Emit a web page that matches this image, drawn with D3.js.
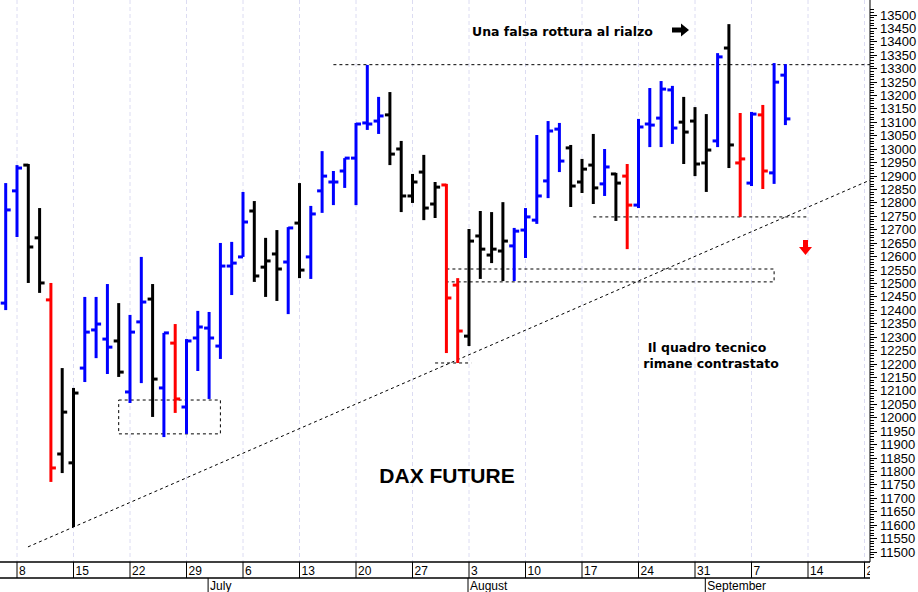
<!DOCTYPE html>
<html><head><meta charset="utf-8">
<script src="https://cdn.jsdelivr.net/npm/d3@7"></script>
<style>body{margin:0;background:#fff}svg{display:block}</style>
</head><body><svg id="c" width="918" height="592"></svg>
<script>
// OHLC values, bar index 0 = Fri 5 June 2020
const opens  = [12427,12845,12941,12670,12439,11865,11832,12185,12327,12293,12286,12096,12357,12442,12111,12278,12040,12297,12334,12267,12565,12599,12770,12561,12610,12580,12725,12599,12845,12878,12919,12967,13098,13105,13128,13001,12826,12915,12796,12867,12494,12304,12677,12606,12621,12640,12699,12736,12882,13075,13005,12878,12941,12871,12908,12900,12792,13094,13116,13221,13101,13105,12949,13031,13377,12949,12874,13128,12912,13276];
const highs  = [12874,12941,12945,12781,12502,12185,12111,12450,12450,12498,12427,12383,12599,12498,12316,12349,12293,12398,12394,12651,12655,12841,12807,12670,12699,12710,12874,12789,12993,12919,12967,13098,13314,13195,13213,13031,12908,12979,12878,12871,12520,12703,12770,12766,12803,12707,12781,13053,13105,13098,13016,12964,13057,13001,12912,12945,13113,13228,13254,13236,13195,13157,13131,13358,13466,13135,13139,13165,13321,13317];
const lows   = [12401,12673,12502,12465,11761,11794,11593,12133,12222,12163,12152,12055,12129,12003,11928,12018,11940,12174,12070,12219,12457,12599,12506,12450,12435,12386,12520,12517,12763,12792,12856,12792,13072,13057,12941,12766,12800,12736,12744,12241,12204,12267,12517,12576,12509,12509,12595,12722,12818,12915,12785,12837,12796,12826,12733,12628,12781,13008,13008,13020,12945,12900,12841,13008,12930,12748,12863,12852,12871,13090];
const closes = [12774,12930,12636,12502,11813,12021,12092,12319,12349,12263,12170,12319,12431,12144,12316,12070,12286,12338,12297,12565,12576,12729,12528,12584,12554,12707,12550,12759,12900,12878,12967,13094,13094,13124,12982,12826,12878,12781,12859,12446,12323,12658,12628,12628,12658,12695,12748,12826,13068,12956,12863,12926,12856,12934,12874,12792,13083,13090,13224,13079,13064,12945,12997,13344,13016,12964,13131,12919,13250,13113];
// bar colour class: u = blue, d = black, r = red
const barClass = [
 "u","u","d","d","r","d","d","u","u","u",
 "d","u","u","d","u","r","u","u","u","u",
 "u","u","d","d","d","u","d","u","u","u",
 "u","u","u","u","d","d","d","d","d","r",
 "r","d","d","d","d","u","u","u","u","u",
 "d","d","d","u","d","r","u","u","u","u",
 "d","d","d","u","d","r","u","r","u","u"];
const yTickLabels = d3.range(11500, 13501, 50);
const monthNames = ["July","August","September"];
const startDate = new Date(2020,5,5);

const W=918,H=592, plotR=870, axisY=562, monthY=578;
const svg=d3.select("#c");
const dates=[]; {let d=new Date(startDate); while(dates.length<77){const wd=d.getDay(); if(wd!==0&&wd!==6) dates.push(new Date(d)); d=d3.timeDay.offset(d,1);} }
const x=d3.scaleLinear().domain([1,76]).range([17,864.5]);
const y=d3.scaleLinear().domain([11500,13500]).range([552,15]);
svg.append("clipPath").attr("id","pc").append("rect").attr("x",0).attr("y",0).attr("width",plotR).attr("height",axisY);
const g=svg.append("g").attr("clip-path","url(#pc)");
const mondays=dates.map((d,i)=>({d,i})).filter(o=>o.d.getDay()===1);
g.selectAll("line.grid").data(mondays).join("line").attr("x1",o=>x(o.i)).attr("x2",o=>x(o.i)).attr("y1",0).attr("y2",axisY)
 .attr("stroke","#dcdcf2").attr("stroke-dasharray","4,3").attr("stroke-width",1);

const dash=(x1,y1,x2,y2)=>g.append("line").attr("x1",x1).attr("y1",y1).attr("x2",x2).attr("y2",y2).attr("stroke","#000").attr("stroke-width",1).attr("stroke-dasharray","3,3");
dash(x(29),y(13315),plotR,y(13315));
g.append("rect").attr("x",x(10)).attr("y",y(12066)).attr("width",x(19)-x(10)).attr("height",y(11940)-y(12066)).attr("fill","none").attr("stroke","#000").attr("stroke-dasharray","3,3");
dash(x(38),y(12204),x(41.2),y(12204));
g.append("path").attr("d",`M${x(39)},${y(12554)}H${x(68)}V${y(12506)}H${x(39)}`).attr("fill","none").attr("stroke","#000").attr("stroke-dasharray","3,3");
dash(x(52),y(12748),x(71),y(12748));
dash(x(1.97),y(11519),x(77.3),y(12900));

const idx=d3.range(opens.length);
const colours={u:"#0000ff",d:"#000000",r:"#ff0000"};
const col=i=>colours[barClass[i]];
const bars=g.selectAll("g.bar").data(idx).join("g");
bars.append("line").attr("x1",i=>x(i)).attr("x2",i=>x(i)).attr("y1",i=>y(highs[i])).attr("y2",i=>y(lows[i])).attr("stroke",col).attr("stroke-width",3);
bars.append("line").attr("x1",i=>x(i)-5).attr("x2",i=>x(i)).attr("y1",i=>y(opens[i])).attr("y2",i=>y(opens[i])).attr("stroke",col).attr("stroke-width",3);
bars.append("line").attr("x1",i=>x(i)).attr("x2",i=>x(i)+5).attr("y1",i=>y(closes[i])).attr("y2",i=>y(closes[i])).attr("stroke",col).attr("stroke-width",3);

const txt=(s,xx,yy,size,fam,anchor)=>svg.append("text").text(s).attr("x",xx).attr("y",yy).attr("font-size",size).attr("font-weight","bold").attr("font-family",fam).attr("text-anchor",anchor||"start").attr("fill","#000");
txt("Una falsa rottura al rialzo",472,36,12.5,"DejaVu Sans");
svg.append("path").attr("d","M672,27.5h9v-4l8,6.5l-8,6.5v-4h-9z").attr("fill","#000");
txt("DAX FUTURE",447,483,21,"Liberation Sans","middle");
txt("Il quadro tecnico",707,352,12.5,"DejaVu Sans","middle");
txt("rimane contrastato",711,368,12.5,"DejaVu Sans","middle");
svg.append("path").attr("d","M803,240h5v7h4l-6.5,8l-6.5,-8h4z").attr("fill","#ff0000");

svg.append("line").attr("x1",plotR).attr("x2",plotR).attr("y1",0).attr("y2",axisY).attr("stroke","#000");
const minor=d3.range(11480,13521,10);
svg.selectAll("line.mt").data(minor).join("line").attr("x1",plotR).attr("x2",v=>plotR+(v%50===0?7:4)).attr("y1",v=>y(v)).attr("y2",v=>y(v)).attr("stroke","#000").attr("stroke-width",1).attr("shape-rendering","crispEdges");
svg.selectAll("text.yl").data(yTickLabels).join("text").attr("x",880).attr("y",v=>y(v)+4.5).text(v=>v)
 .attr("font-family","Liberation Sans, Arial").attr("font-size",13).attr("fill","#000");

svg.append("line").attr("x1",0).attr("x2",plotR).attr("y1",axisY).attr("y2",axisY).attr("stroke","#000").attr("stroke-width",1.5);
svg.append("line").attr("x1",0).attr("x2",plotR).attr("y1",monthY).attr("y2",monthY).attr("stroke","#000").attr("stroke-width",1.5);
svg.selectAll("line.dt").data(mondays).join("line").attr("x1",o=>x(o.i)).attr("x2",o=>x(o.i)).attr("y1",axisY).attr("y2",monthY).attr("stroke","#000");
svg.append("clipPath").attr("id","ac").append("rect").attr("x",0).attr("y",axisY).attr("width",plotR).attr("height",40);
const ax=svg.append("g").attr("clip-path","url(#ac)");
ax.selectAll("text").data(mondays).join("text").attr("x",o=>x(o.i)+2).attr("y",575).text(o=>o.d.getDate())
 .attr("font-family","Liberation Sans, Arial").attr("font-size",12).attr("fill","#000");
const firsts=[6,7,8].map((m,k)=>({i:dates.findIndex(d=>d.getMonth()===m),name:monthNames[k]}));
svg.selectAll("line.ms").data(firsts).join("line").attr("x1",o=>x(o.i)-1).attr("x2",o=>x(o.i)-1).attr("y1",monthY).attr("y2",592).attr("stroke","#000");
svg.selectAll("text.ml").data(firsts).join("text").attr("x",o=>x(o.i)+1).attr("y",590).text(o=>o.name)
 .attr("font-family","Liberation Sans, Arial").attr("font-size",12).attr("fill","#000");
</script></body></html>
